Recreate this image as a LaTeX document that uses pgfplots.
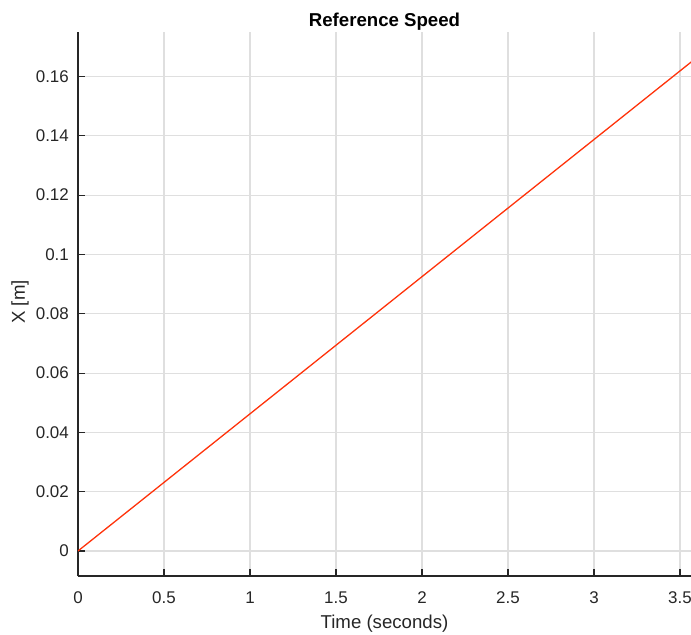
\documentclass[border=0pt]{standalone}
\usepackage{pgfplots}
\pgfplotsset{compat=1.18}
\usepackage{fontspec}
\setmainfont{Liberation Sans}

\definecolor{axisgray}{RGB}{38,38,38}
\definecolor{gridgray}{RGB}{223,223,223}
\definecolor{lineorange}{RGB}{255,50,10}

\begin{document}
\begin{tikzpicture}
\begin{axis}[
    scale only axis,
    width=613bp,
    height=544bp,
    xmin=0, xmax=3.564,
    ymin=-0.00843, ymax=0.175,
    axis x line=bottom,
    axis y line=left,
    axis line style={-, axisgray, line width=1.1bp},
    xtick={0,0.5,1,1.5,2,2.5,3,3.5},
    xticklabels={0,0.5,1,1.5,2,2.5,3,3.5},
    ytick={0,0.02,0.04,0.06,0.08,0.1,0.12,0.14,0.16},
    yticklabels={0,0.02,0.04,0.06,0.08,0.1,0.12,0.14,0.16},
    scaled y ticks=false,
    tick align=inside,
    major tick length=7bp,
    tick style={axisgray, line width=1.1bp},
    grid=major,
    grid style={gridgray, line width=1.1bp},
    ticklabel style={font=\fontsize{17}{20}\selectfont, text=axisgray, inner sep=0pt},
    xticklabel style={anchor=base, yshift=-27bp},
    yticklabel style={anchor=east, xshift=-9bp},
    xlabel={Time (seconds)},
    ylabel={X [m]},
    label style={font=\fontsize{18.7}{22}\selectfont, text=axisgray},
    xlabel style={at={(axis description cs:0.5,0)}, anchor=center, yshift=-48bp},
    ylabel style={at={(axis description cs:0,0.5)}, anchor=base, yshift=53bp, xshift=2bp},
    title={Reference Speed},
    title style={font=\fontsize{18.7}{22}\selectfont\bfseries, at={(axis description cs:0.5,1)}, anchor=base, inner sep=0pt, yshift=0bp},
]
\addplot[color=lineorange, line width=1.3bp] coordinates {
    (0, 0)
    (3.6, 0.1665)
};
\end{axis}
\pgfresetboundingbox
\path ([shift={(-78bp,-59bp)}]current axis.south west) rectangle ([shift={(0bp,32bp)}]current axis.north east);
\end{tikzpicture}
\end{document}
